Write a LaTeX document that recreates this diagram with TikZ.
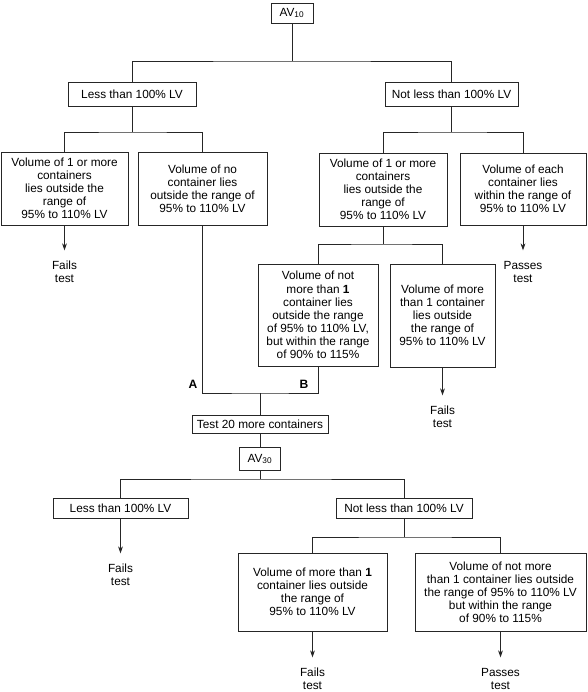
\documentclass[tikz,border=0pt]{standalone}
\usepackage{fontspec}
\setmainfont{Liberation Sans}
\usetikzlibrary{positioning,arrows.meta}

\begin{document}
\begin{tikzpicture}[
    x=0.025cm, y=-0.025cm,
    font=\fontsize{8.4}{9.3}\selectfont,
    decisionNode/.style 2 args={rectangle, draw=black!85, line width=0.6pt, align=center, inner sep=1pt, minimum width=#1*0.025cm, minimum height=#2*0.025cm},
    resultNode/.style={align=center, inner xsep=2pt, inner ysep=7.5pt},
    pointLabel/.style={font=\fontsize{8.6}{10}\selectfont\bfseries},
    flowLine/.style={draw=black!85, line width=0.6pt},
    flowArrow/.style={flowLine, -{Stealth[length=5pt, width=3.4pt]}}
]
\useasboundingbox (0,0) rectangle (587,692);

% ================= FIRST 10 CONTAINERS =================
\node[decisionNode={42}{20}] (av10) at (292,13) {AV\textsubscript{10}};
\node[decisionNode={128}{24}] (less1) at (132,94) {Less than 100\% LV};
\node[decisionNode={133}{24}] (notless1) at (451.5,94) {Not less than 100\% LV};

\node[decisionNode={127}{73}] (vol1L) at (64.5,188.5) {Volume of 1 or more\\containers\\lies outside the\\range of\\95\% to 110\% LV};
\node[decisionNode={129}{73}] (volNo) at (202.5,188.5) {Volume of no\\container lies\\outside the range of\\95\% to 110\% LV};
\node[decisionNode={128}{73}] (vol1R) at (383,189.5) {Volume of 1 or more\\containers\\lies outside the\\range of\\95\% to 110\% LV};
\node[decisionNode={126}{72}] (volEach) at (523,189) {Volume of each\\container lies\\within the range of\\95\% to 110\% LV};

\node[decisionNode={120}{102}] (notMore1) at (318,315) {Volume of not\\more than \textbf{1}\\container lies\\outside the range\\of 95\% to 110\% LV,\\but within the range\\of 90\% to 115\%};
\node[decisionNode={105}{103}] (more1) at (442.5,315.5) {Volume of more\\than 1 container\\lies outside\\the range of\\95\% to 110\% LV};

\node[resultNode, below=0.625cm of vol1L] (fails1) {Fails\\test};
\node[resultNode, below=0.625cm of volEach] (passes1) {Passes\\test};
\node[resultNode, below=0.7cm of more1] (fails2) {Fails\\test};

% ================= RETEST =================
\node[decisionNode={136}{18}] (test20) at (260,424) {Test 20 more containers};
\node[decisionNode={41}{23}] (av30) at (260,459) {AV\textsubscript{30}};
\node[decisionNode={135}{20}] (less2) at (120.5,508) {Less than 100\% LV};
\node[decisionNode={136}{20}] (notless2) at (404,508) {Not less than 100\% LV};

\node[decisionNode={149}{78}] (more1B) at (312.5,592) {Volume of more than \textbf{1}\\container lies outside\\the range of\\95\% to 110\% LV};
\node[decisionNode={171}{78}] (notMore1B) at (500.5,592) {Volume of not more\\than 1 container lies outside\\the range of 95\% to 110\% LV\\but within the range\\of 90\% to 115\%};

\node[resultNode, below=0.875cm of less2] (fails3) {Fails\\test};
\node[resultNode, below=0.65cm of more1B] (fails4) {Fails\\test};
\node[resultNode, below=0.65cm of notMore1B] (passes2) {Passes\\test};

\node[pointLabel] (labelA) at (193,384) {A};
\node[pointLabel] (labelB) at (304,384) {B};

% ================= BRANCHES =================
\coordinate (forkTop) at (292,61);
\coordinate (forkL) at (132,132);
\coordinate (forkR) at (451.5,132);
\coordinate (forkMid) at (383,244);
\coordinate (joinAB) at (260,393);
\coordinate (forkBot) at (260,479);
\coordinate (forkBot2) at (404,537);

\draw[flowLine] (av10) -- (forkTop);
\draw[flowLine] (less1.north) |- (forkTop) -| (notless1.north);
\draw[flowLine] (less1) -- (forkL);
\draw[flowLine] (vol1L.north) |- (forkL) -| (volNo.north);
\draw[flowLine] (notless1) -- (forkR);
\draw[flowLine] (vol1R.north) |- (forkR) -| (volEach.north);
\draw[flowLine] (vol1R) -- (forkMid);
\draw[flowLine] (notMore1.north) |- (forkMid) -| (more1.north);
\draw[flowLine] (volNo.south) |- (joinAB) -| (notMore1.south);
\draw[flowLine] (joinAB) -- (test20);
\draw[flowLine] (test20) -- (av30);
\draw[flowLine] (av30) -- (forkBot);
\draw[flowLine] (less2.north) |- (forkBot) -| (notless2.north);
\draw[flowLine] (notless2) -- (forkBot2);
\draw[flowLine] (more1B.north) |- (forkBot2) -| (notMore1B.north);

% ================= OUTCOMES =================
\draw[flowArrow] (vol1L) -- (fails1);
\draw[flowArrow] (volEach) -- (passes1);
\draw[flowArrow] (more1) -- (fails2);
\draw[flowArrow] (less2) -- (fails3);
\draw[flowArrow] (more1B) -- (fails4);
\draw[flowArrow] (notMore1B) -- (passes2);

\end{tikzpicture}
\end{document}
